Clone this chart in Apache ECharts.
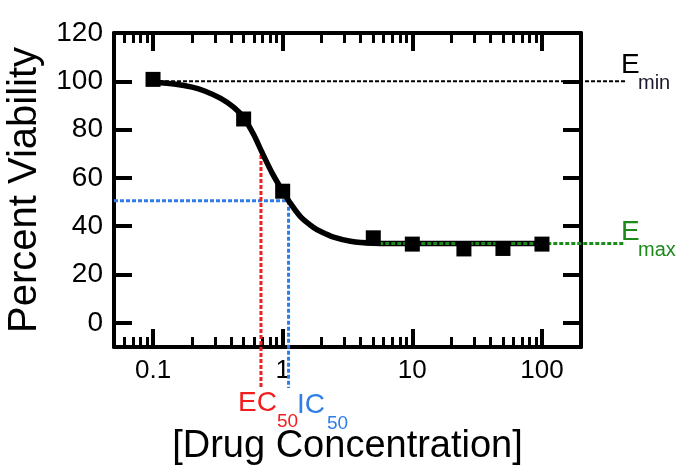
<!DOCTYPE html>
<html>
<head>
<meta charset="utf-8">
<script src="https://cdn.jsdelivr.net/npm/echarts@6/dist/echarts.min.js"></script>
<style>
  html, body { margin: 0; padding: 0; background: #fff; }
  #chart { width: 676px; height: 468px; }
</style>
</head>
<body>
<div id="chart"></div>
<script>
// measured points (concentration, % viability)
var pointX = [0.1, 0.5, 1, 5, 10, 25, 50, 100];
var pointY = [100.8, 84.4, 54.5, 35.2, 32.6, 30.6, 30.8, 32.6];

// fitted curve
var curveX = [0.1, 0.15, 0.2, 0.25, 0.33, 0.42, 0.5, 0.6, 0.68, 0.83, 1.0, 1.11, 1.37, 1.73, 2.0, 2.47, 3.33, 5, 10, 30, 100];
var curveY = [99.6, 98.8, 97.6, 96, 93, 89.2, 85, 77.8, 71.5, 62, 54.5, 50.6, 44, 39.5, 37.6, 35.5, 33.8, 33, 32.8, 32.8, 32.8];

// reference levels
var eMin = 100;
var eMax = 32.8;
var ec50 = 0.68;
var ic50 = 1.11;
var ec50Level = 72;
var ic50Level = 50.6;
var guideEndX = 440;   // dashed guides run past the frame
var guideBottom = -27;

// axis ticks
var xMajor = [0.1, 1, 10, 100];
var xMinor = [0.06, 0.07, 0.08, 0.09,
  0.2, 0.3, 0.4, 0.5, 0.6, 0.7, 0.8, 0.9,
  2, 3, 4, 5, 6, 7, 8, 9,
  20, 30, 40, 50, 60, 70, 80, 90];
var yTicks = [0, 20, 40, 60, 80, 100, 120];

var font = 'Liberation Sans, Arial, Helvetica, sans-serif';
var red = '#f21d1d';
var blue = '#2f7de8';
var green = '#1b8a1b';

function zip(xs, ys) {
  return xs.map(function (x, i) { return [x, ys[i]]; });
}

function xAxisPart(position, major, showLine, showLabel) {
  return {
    type: 'log',
    logBase: 10,
    min: 0.05,
    max: 200,
    position: position,
    axisLine: { show: showLine, onZero: false, lineStyle: { color: '#000', width: 4 } },
    axisTick: {
      show: true,
      inside: true,
      customValues: major ? xMajor : xMinor,
      length: major ? 18 : 10,
      lineStyle: { color: '#000', width: major ? 4 : 3 }
    },
    axisLabel: {
      show: showLabel,
      customValues: xMajor,
      color: '#000',
      fontSize: 26,
      fontFamily: font,
      margin: 11
    },
    splitLine: { show: false },
    minorTick: { show: false }
  };
}

function yAxisPart(position, showLabel) {
  return {
    type: 'value',
    min: -10,
    max: 120,
    position: position,
    axisLine: { show: true, onZero: false, lineStyle: { color: '#000', width: 4 } },
    axisTick: {
      show: true,
      inside: true,
      customValues: yTicks,
      length: 18,
      lineStyle: { color: '#000', width: 4 }
    },
    axisLabel: {
      show: showLabel,
      customValues: yTicks,
      color: '#000',
      fontSize: 28,
      fontFamily: font,
      margin: 11
    },
    splitLine: { show: false }
  };
}

var chart = echarts.init(document.getElementById('chart'));

var xBottom = xAxisPart('bottom', true, true, true);
xBottom.name = '[Drug Concentration]';
xBottom.nameLocation = 'middle';
xBottom.nameGap = 81;
xBottom.nameTextStyle = { color: '#000', fontSize: 38, fontFamily: font };

var yLeft = yAxisPart('left', true);
yLeft.name = 'Percent Viability';
yLeft.nameLocation = 'middle';
yLeft.nameRotate = 90;
yLeft.nameGap = 57;
yLeft.nameTextStyle = { color: '#000', fontSize: 40, fontFamily: font };

// dashed guide segments [x1, y1, x2, y2], drawn unclipped so they run past the frame
function guide(segments, color, width, z) {
  return {
    type: 'custom',
    coordinateSystem: 'cartesian2d',
    data: segments,
    clip: false,
    silent: true,
    z: z,
    encode: { x: [0, 2], y: [1, 3] },
    renderItem: function (params, api) {
      var p1 = api.coord([api.value(0), api.value(1)]);
      var p2 = api.coord([api.value(2), api.value(3)]);
      return {
        type: 'line',
        shape: { x1: p1[0], y1: p1[1], x2: p2[0], y2: p2[1] },
        style: { stroke: color, lineWidth: width, lineDash: [4, 2], fill: null }
      };
    }
  };
}

chart.setOption({
  animation: false,
  backgroundColor: '#fff',
  grid: { left: 114, right: 95, top: 33, bottom: 121, containLabel: false, outerBoundsMode: 'none' },
  xAxis: [
    xBottom,
    xAxisPart('bottom', false, false, false),
    xAxisPart('top', true, true, false),
    xAxisPart('top', false, false, false)
  ],
  yAxis: [yLeft, yAxisPart('right', false)],
  series: [
    guide([[pointX[0], eMin, guideEndX, eMin]], '#000', 2, 2),
    guide([[0.05, ic50Level, ic50, ic50Level], [ic50, ic50Level, ic50, guideBottom]], blue, 3, 2),
    guide([[ec50, ec50Level, ec50, guideBottom]], red, 3, 2),
    {
      type: 'line',
      data: zip(curveX, curveY),
      smooth: 0.3,
      symbol: 'none',
      z: 3,
      lineStyle: { color: '#000', width: 5.5 }
    },
    guide([[5, eMax, guideEndX, eMax]], green, 3, 4),
    {
      type: 'scatter',
      data: zip(pointX, pointY),
      symbol: 'rect',
      symbolSize: 15,
      z: 5,
      itemStyle: { color: '#000', opacity: 1 }
    }
  ]
});

// text annotations
var t = function (x, y, text, size, color) {
  return {
    type: 'text',
    x: x,
    y: y,
    style: {
      text: text,
      fill: color,
      fontSize: size,
      fontFamily: font,
      verticalAlign: 'middle',
      align: 'left'
    }
  };
};
chart.setOption({
  graphic: [
    t(238, 403, 'EC', 28, red),
    t(277, 422, '50', 19, red),
    t(297, 405, 'IC', 28, blue),
    t(327, 424, '50', 19, blue),
    t(621, 65, 'E', 28, '#000'),
    t(638, 83, 'min', 20, '#1a1a2a'),
    t(621, 232, 'E', 28, green),
    t(638, 250, 'max', 20, green)
  ]
});
</script>
</body>
</html>
